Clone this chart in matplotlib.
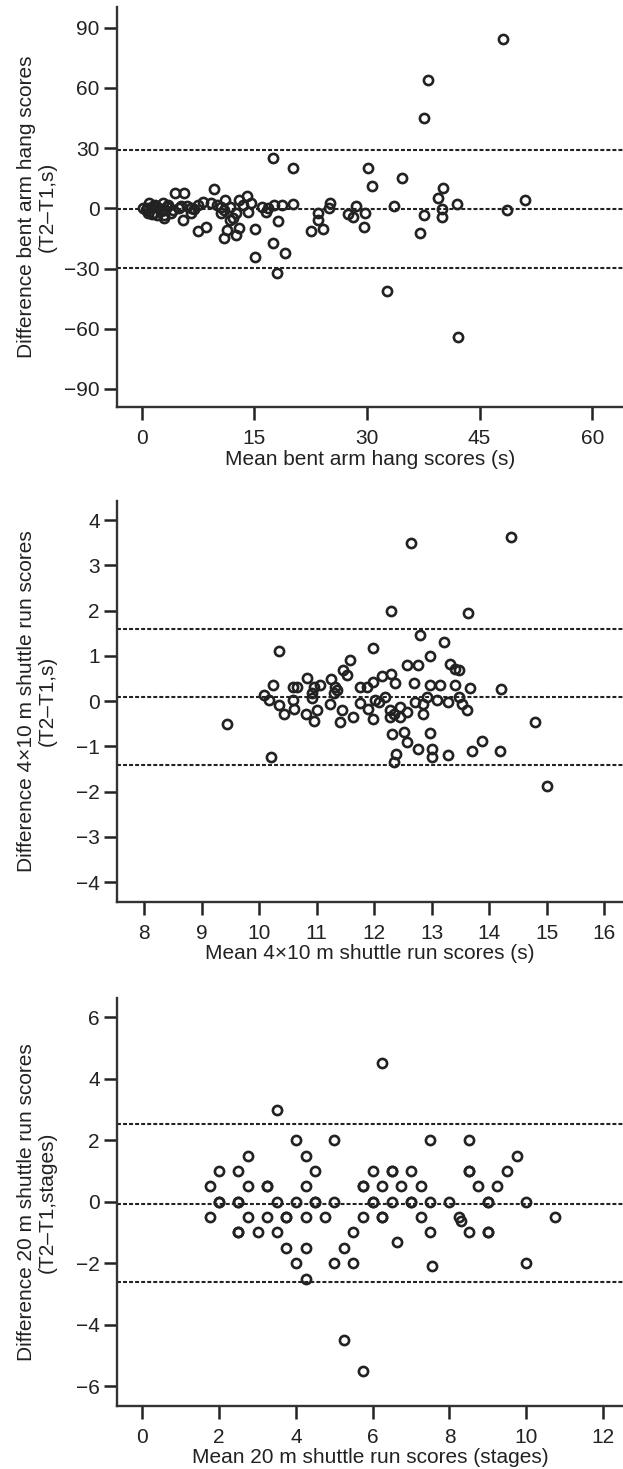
import matplotlib.pyplot as plt

plt.rcParams["font.family"] = ["Liberation Sans", "DejaVu Sans"]

# ---- bent arm hang (s) ----
bah_mean = [48.1, 38.1, 37.6, 17.5, 20.1, 30.1, 30.6, 34.6, 40.1, 39.5, 42.0, 51.1,
            48.6, 40.0, 40.0, 37.6, 37.1, 33.6, 32.6, 42.1, 29.7, 29.6, 28.6, 28.1,
            27.5, 25.1, 25.0, 23.5, 23.5, 24.1, 22.6, 20.1, 18.7, 18.1, 17.5, 19.1,
            18.0, 15.1, 15.1, 17.6, 16.8, 16.0, 16.5, 14.5, 14.0, 14.2, 12.9, 12.6,
            13.0, 12.6, 11.4, 11.0, 11.1, 10.5, 10.6, 12.1, 11.8, 9.6, 9.2, 10.0,
            8.6, 7.5, 7.5, 6.5, 6.5, 5.5, 5.6, 4.4, 4.9, 3.9, 2.9, 2.8, 2.3, 1.6,
            1.0, 0.7, 0.2, 1.2, 1.7, 3.3, 0.85, 2.0, 3.1, 8.1, 13.5, 10.9, 11.8,
            0.5, 1.5, 2.5, 3.5, 3.0, 1.3, 4.2, 5.2, 6.0, 7.0]
bah_diff = [84.2, 64.0, 44.8, 24.9, 19.9, 19.9, 11.1, 15.0, 10.0, 5.0, 2.2, 4.2,
            -0.8, -0.5, -4.5, -3.3, -12.5, 1.2, -41.2, -64.3, -2.5, -9.5, 1.3, -4.2,
            -2.8, 2.5, 0.0, -2.5, -5.8, -10.5, -11.1, 2.2, 1.7, -6.1, -17.1, -22.4,
            -32.0, -24.4, -10.5, 1.7, 0.0, 0.8, -1.7, 2.5, 6.1, -1.7, 4.2, -2.5,
            -9.6, -13.3, -10.8, -15.0, 4.2, 0.8, -2.5, -5.0, 0.8, 9.5, 2.5, 1.7,
            -9.1, -11.1, 1.7, 0.0, -2.5, -5.8, 7.5, 7.5, 0.0, -2.5, -5.0, 2.5, 0.0, -2.2,
            2.8, 0.0, 0.0, 0.0, 1.7, 0.5, -2.5, -3.3, -0.8, 3.3, 1.7, -0.8, -5.8,
            -1.0, 1.0, -1.5, 1.5, -3.5, -3.0, -1.0, 1.0, 1.2, -0.5]
bah_loa = [29.2, -0.4, -29.9]

# ---- 4x10 m shuttle run (s) ----
sr4_mean = [12.30, 13.64, 12.80, 13.21, 10.34, 11.98, 11.59, 12.97, 12.58, 12.76,
            13.33, 13.41, 13.47, 11.46, 11.53, 12.14, 12.30, 10.83, 11.25, 10.66,
            10.59, 10.25, 10.95, 11.06, 11.33, 11.76, 11.88, 11.99, 12.36, 12.70,
            12.98, 13.14, 13.41, 13.67, 14.20, 10.08, 10.17, 10.34, 10.44, 10.59,
            10.60, 10.82, 10.92, 10.92, 11.01, 10.95, 11.23, 11.30, 11.35, 11.44,
            11.41, 11.64, 11.76, 11.90, 11.99, 12.02, 12.08, 12.19, 12.27, 12.28,
            12.34, 12.46, 12.46, 12.57, 12.72, 12.86, 12.86, 12.92, 13.09, 13.28,
            13.47, 13.53, 13.62, 12.32, 12.53, 12.57, 12.77, 12.97, 13.01, 13.01,
            13.28, 13.70, 13.88, 14.19, 12.38, 12.34, 10.21, 9.44, 12.65, 14.38,
            14.80, 15.01]
sr4_diff = [2.00, 1.95, 1.47, 1.30, 1.10, 1.18, 0.91, 0.99, 0.80, 0.80,
            0.81, 0.71, 0.68, 0.68, 0.57, 0.55, 0.60, 0.51, 0.49, 0.31,
            0.31, 0.35, 0.31, 0.35, 0.31, 0.31, 0.31, 0.42, 0.40, 0.40,
            0.35, 0.35, 0.35, 0.30, 0.27, 0.13, 0.02, -0.09, -0.29, 0.02,
            -0.17, -0.29, 0.17, 0.06, -0.20, -0.44, -0.06, 0.17, 0.24, -0.19,
            -0.46, -0.35, -0.04, -0.17, -0.39, 0.02, -0.02, 0.09, -0.20, -0.35,
            -0.28, -0.13, -0.35, -0.24, -0.02, -0.28, -0.06, 0.09, 0.02, -0.02,
            0.09, -0.06, -0.20, -0.72, -0.68, -0.90, -1.05, -0.70, -1.05, -1.23,
            -1.20, -1.11, -0.89, -1.11, -1.16, -1.34, -1.23, -0.50, 3.49, 3.63,
            -0.46, -1.88]
sr4_loa = [1.59, 0.09, -1.40]

# ---- 20 m shuttle run (stages) ----
sr20_mean = [3.5, 6.25,
             4.0, 5.0, 7.5, 8.5,
             2.75, 4.25, 9.75,
             2.0, 2.5, 4.5, 6.0, 6.5, 6.5, 7.0, 8.5, 8.5, 9.5,
             1.75, 2.75, 3.25, 3.25, 4.25, 5.75, 5.75, 6.25, 6.75, 7.25, 8.75, 9.25,
             2.0, 2.0, 2.5, 2.5, 3.5, 4.0, 4.5, 4.5, 5.0, 6.0, 6.0, 6.5, 7.0, 7.0,
             7.5, 8.0, 9.0, 9.0, 10.0,
             1.75, 2.75, 3.25, 3.75, 3.75, 4.25, 4.75, 5.75, 6.25, 6.25, 7.25,
             8.25, 10.75, 8.3,
             2.5, 2.5, 3.0, 3.5, 5.5, 7.5, 8.5, 9.0, 9.0,
             6.64,
             3.75, 4.25, 5.25,
             4.0, 5.0, 5.5, 10.0,
             7.55, 4.25, 5.25, 5.75]
sr20_diff = [3.0, 4.5,
             2.0, 2.0, 2.0, 2.0,
             1.5, 1.5, 1.5,
             1.0, 1.0, 1.0, 1.0, 1.0, 1.0, 1.0, 1.0, 1.0, 1.0,
             0.5, 0.5, 0.5, 0.5, 0.5, 0.5, 0.5, 0.5, 0.5, 0.5, 0.5, 0.5,
             0.0, 0.0, 0.0, 0.0, 0.0, 0.0, 0.0, 0.0, 0.0, 0.0, 0.0, 0.0, 0.0, 0.0,
             0.0, 0.0, 0.0, 0.0, 0.0,
             -0.5, -0.5, -0.5, -0.5, -0.5, -0.5, -0.5, -0.5, -0.5, -0.5, -0.5,
             -0.5, -0.5, -0.62,
             -1.0, -1.0, -1.0, -1.0, -1.0, -1.0, -1.0, -1.0, -1.0,
             -1.3,
             -1.5, -1.5, -1.5,
             -2.0, -2.0, -2.0, -2.0,
             -2.1, -2.5, -4.5, -5.5]
sr20_loa = [2.52, -0.06, -2.62]

INK = "#222222"
FS = 15


def draw_panel(ax, mean, diff, loa, xlim, ylim, xticks, yticks, xlabel, ylabel):
    for v in loa:
        ax.axhline(v, color=INK, lw=1.5, ls=(0, (1.9, 1.0)), zorder=1)
    ax.plot(mean, diff, "o", ms=6.6, mfc="none", mec=INK, mew=1.9, zorder=2)
    ax.set_xlim(*xlim)
    ax.set_ylim(*ylim)
    ax.set_xticks(xticks)
    ax.set_yticks(yticks)
    for s in ["top", "right"]:
        ax.spines[s].set_visible(False)
    for s in ["left", "bottom"]:
        ax.spines[s].set_linewidth(1.7)
        ax.spines[s].set_color("#333333")
    ax.tick_params(direction="out", length=9.5, width=1.8, labelsize=FS,
                   colors=INK)
    ax.tick_params(axis="x", pad=6.5)
    ax.tick_params(axis="y", pad=3)
    ax.set_xlabel(xlabel, fontsize=FS, color=INK, labelpad=1)
    ax.text(-0.158, 0.5, ylabel, transform=ax.transAxes, rotation=90,
            ha="center", va="center", fontsize=FS, color=INK,
            linespacing=1.15, multialignment="center")


fig = plt.figure(figsize=(6.23, 14.69))
left, width = 0.1878, 0.8122

ax1 = fig.add_axes([left, 0.7229, width, 0.2725])
draw_panel(ax1, bah_mean, bah_diff, bah_loa, (-3.3, 64.1), (-99.0, 100.4),
           [0, 15, 30, 45, 60], [-90, -60, -30, 0, 30, 60, 90],
           "Mean bent arm hang scores (s)",
           "Difference bent arm hang scores\n(T2\u2013T1,s)")

ax2 = fig.add_axes([left, 0.3862, width, 0.2730])
draw_panel(ax2, sr4_mean, sr4_diff, sr4_loa, (7.53, 16.33), (-4.43, 4.43),
           list(range(8, 17)), list(range(-4, 5)),
           "Mean 4\u00d710 m shuttle run scores (s)",
           "Difference 4\u00d710 m shuttle run scores\n(T2\u2013T1,s)")

ax3 = fig.add_axes([left, 0.0431, width, 0.2773])
draw_panel(ax3, sr20_mean, sr20_diff, sr20_loa, (-0.66, 12.52), (-6.64, 6.62),
           [0, 2, 4, 6, 8, 10, 12], [-6, -4, -2, 0, 2, 4, 6],
           "Mean 20 m shuttle run scores (stages)",
           "Difference 20 m shuttle run scores\n(T2\u2013T1,stages)")

fig.savefig("out.png", dpi=100)
